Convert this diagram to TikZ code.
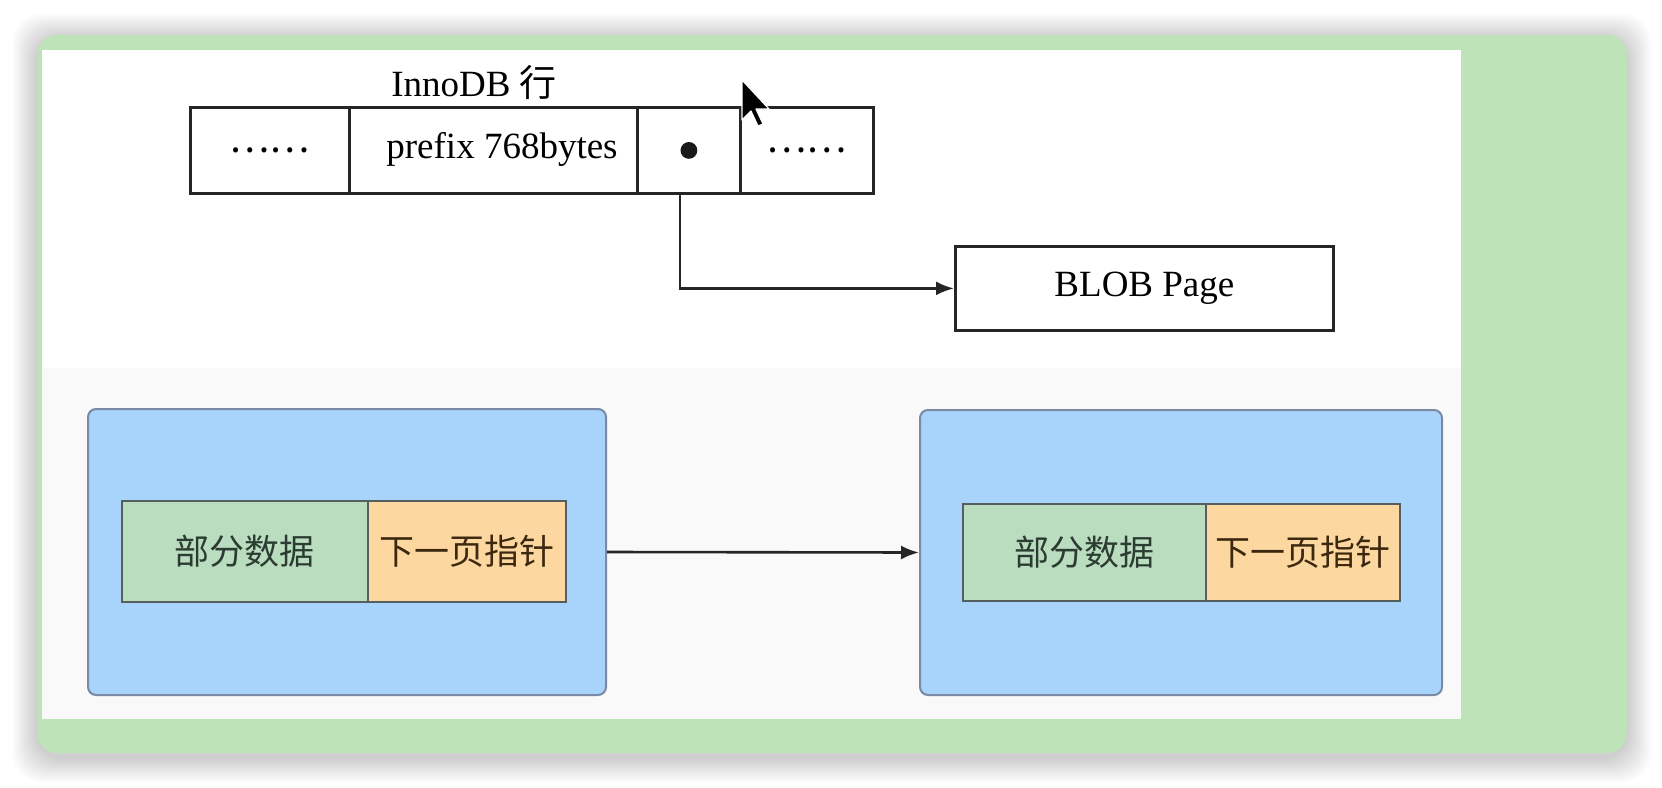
\documentclass[tikz,border=0pt]{standalone}
\usepackage{fontspec}
\setmainfont{Liberation Serif}
\newfontfamily\cjk{Noto Sans CJK SC}
\usetikzlibrary{arrows.meta}
\definecolor{panelgreen}{RGB}{191,227,184}
\definecolor{pagebg}{RGB}{249,249,250}
\definecolor{blueface}{RGB}{168,211,250}
\definecolor{blueedge}{RGB}{122,138,165}
\definecolor{cellgreen}{RGB}{185,221,190}
\definecolor{cellorange}{RGB}{252,215,160}
\definecolor{celledge}{RGB}{85,95,95}
\definecolor{inkgreen}{RGB}{45,60,50}
\definecolor{inkbrown}{RGB}{60,40,15}
\tikzset{
  rowcell/.style={draw=black!85, line width=1.4pt, minimum height=43pt, inner sep=0pt, anchor=north west, font=\fontsize{18.5}{20}\selectfont},
  blobbox/.style={draw=black!85, line width=1.4pt, minimum width=189pt, minimum height=42pt, inner sep=0pt, anchor=north west, font=\fontsize{18.5}{20}\selectfont},
  pagebox/.style={draw=blueedge, fill=blueface, line width=1pt, rounded corners=4pt, inner sep=0pt, anchor=north west},
  datacell/.style={draw=celledge, fill=cellgreen, line width=0.8pt, inner sep=0pt, anchor=north west, text=inkgreen, font=\cjk\fontsize{17.5}{19}\selectfont},
  ptrcell/.style={draw=celledge, fill=cellorange, line width=0.8pt, inner sep=0pt, anchor=north west, text=inkbrown, font=\cjk\fontsize{17.5}{19}\selectfont},
  linkarrow/.style={draw=black!85, line width=1.3pt, -{Latex[length=9pt,width=7pt]}}
}
\begin{document}
\begin{tikzpicture}[x=0.5pt,y=-0.5pt]
\useasboundingbox (0,0) rectangle (1662,788);
\fill[white] (0,0) rectangle (1662,788);
% soft shadow of the panel
\foreach \d in {2,4,...,24} {
  \fill[black,opacity=0.016,rounded corners=14] (37-\d,38-\d) rectangle (1627+\d,758+\d);
}
% green panel and slide
\fill[panelgreen,rounded corners=10] (37,35) rectangle (1627,753);
\fill[white] (42,50) rectangle (1461,719);
\fill[pagebg] (42,368) rectangle (1461,719);

% InnoDB row
\node[font=\fontsize{18.5}{20}\selectfont] (title) at (474,82) {InnoDB {\cjk 行}};
\node[rowcell, minimum width=79.5pt] (c1) at (189,106) {\cjk\fontsize{19}{20}\selectfont ……};
\node[rowcell, minimum width=144pt] (c2) at (348,106) {};
\node[font=\fontsize{18.5}{20}\selectfont] (c2t) at (502,149) {prefix 768bytes};
\node[rowcell, minimum width=51.5pt] (c3) at (636,106) {};
\node[rowcell, minimum width=66.5pt] (c4) at (739,106) {\cjk\fontsize{19}{20}\selectfont ……};
\fill[black!90] (c3.center) circle (4.2pt);
\node[blobbox] (blob) at (954,245) {BLOB Page};
\coordinate (ptr) at ([xshift=-4.5pt]c3.south);
\draw[linkarrow] (ptr) |- (blob.west);

% pages
\node[pagebox, minimum width=259pt, minimum height=143pt] (pageA) at (87,408) {};
\node[datacell, minimum width=123pt, minimum height=50.5pt] (dataA) at (121,500) {部分数据};
\node[ptrcell, minimum width=99pt, minimum height=50.5pt] (nextA) at (367,500) {下一页指针};
\node[pagebox, minimum width=261pt, minimum height=142.5pt] (pageB) at (919,409) {};
\node[datacell, minimum width=121.5pt, minimum height=48.5pt] (dataB) at (962,503) {部分数据};
\node[ptrcell, minimum width=97pt, minimum height=48.5pt] (nextB) at (1205,503) {下一页指针};
\draw[linkarrow] (pageA.east) -- (pageB.west);

% mouse pointer
\filldraw[fill=black, draw=white, line width=0.6pt, line join=round]
  (742,80) -- (742,120) -- (751,111) -- (758,126) -- (763,124) -- (756,109) -- (769,109) -- cycle;
\end{tikzpicture}
\end{document}
